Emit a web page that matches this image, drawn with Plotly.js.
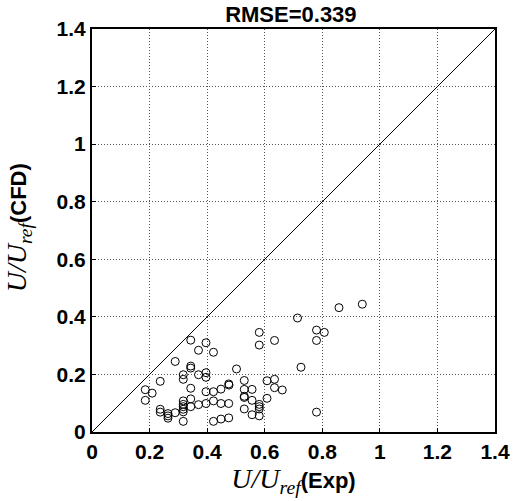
<!DOCTYPE html>
<html><head><meta charset="utf-8">
<script src="https://cdn.plot.ly/plotly-3.0.1.min.js"></script>
<style>body{margin:0;padding:0;background:#fff}#chart{width:513px;height:501px}</style>
</head><body><div id="chart"></div>
<script>
const expVals = [0.343,0.396,0.370,0.422,0.289,0.343,0.343,0.370,0.396,0.396,0.317,0.317,0.237,0.185,0.209,0.185,
  0.343,0.396,0.422,0.448,0.475,0.343,0.317,0.317,0.317,0.317,0.317,0.343,0.370,0.396,0.422,0.448,0.475,
  0.237,0.237,0.264,0.264,0.264,0.289,0.317,0.422,0.448,0.475,
  0.858,0.939,0.714,0.581,0.581,0.634,0.780,0.807,0.780,0.502,0.726,0.476,
  0.529,0.529,0.556,0.608,0.634,0.634,0.661,0.529,0.529,0.556,0.608,0.581,0.581,0.581,0.529,0.556,0.581,0.780];
const cfdVals = [0.319,0.310,0.284,0.277,0.245,0.229,0.222,0.199,0.206,0.190,0.199,0.183,0.176,0.147,0.135,0.110,
  0.152,0.140,0.140,0.149,0.167,0.115,0.108,0.096,0.088,0.079,0.070,0.088,0.095,0.099,0.108,0.099,0.099,
  0.079,0.069,0.064,0.056,0.048,0.067,0.037,0.037,0.045,0.049,
  0.432,0.444,0.396,0.346,0.302,0.318,0.354,0.346,0.318,0.219,0.225,0.163,
  0.179,0.148,0.148,0.178,0.183,0.154,0.146,0.120,0.124,0.110,0.117,0.096,0.088,0.080,0.080,0.060,0.056,0.069];
const refLine = [0, 1.4];
const tickVals = [0,0.2,0.4,0.6,0.8,1,1.2,1.4];
const tickText = ['0','0.2','0.4','0.6','0.8','1','1.2','1.4'];
const titleText = 'RMSE=0.339';
const xTitleTail = '(Exp)';
const yTitleTail = '(CFD)';

const axisBase = {
  range:[0,1.4], tickvals:tickVals, ticktext:tickText, ticks:'inside', ticklen:4, tickcolor:'#000',
  showline:true, linecolor:'#000', linewidth:2, mirror:true,
  showgrid:true, gridcolor:'#555', griddash:'1px,2px', gridwidth:1, zeroline:false,
  tickfont:{family:'Liberation Sans, Arial', size:21, color:'#000', weight:'bold'}, fixedrange:true
};
const uPart = '<span style="font-family:\'Liberation Serif\';font-style:italic;font-weight:normal;font-size:28px">U/U<sub>ref</sub></span>';
const titleFont = {family:'Liberation Sans, Arial', size:22, color:'#000'};
const layout = {
  width:513, height:501, margin:{l:92, r:18, t:29, b:69},
  paper_bgcolor:'#fff', plot_bgcolor:'#fff', showlegend:false,
  title:{text:'<b>'+titleText+'</b>', x:0.567, xanchor:'center', y:0.972, yanchor:'middle',
    font:{family:'Liberation Sans, Arial', size:22, color:'#000'}},
  xaxis:Object.assign({}, axisBase, {automargin:false, title:{text:uPart+'<b>'+xTitleTail+'</b>', standoff:0, font:titleFont}}),
  yaxis:Object.assign({}, axisBase, {automargin:false}),
  annotations:[{text:uPart+'<b>'+yTitleTail+'</b>', textangle:-90, xref:'paper', yref:'paper',
    x:-0.183, y:0.506, xanchor:'center', yanchor:'middle', showarrow:false, font:titleFont}]
};
const data = [
  {x:refLine, y:refLine, mode:'lines', line:{color:'#000', width:1}, hoverinfo:'skip'},
  {x:expVals, y:cfdVals, mode:'markers', marker:{symbol:'circle-open', size:8, color:'#000', line:{width:1, color:'#000'}}}
];
Plotly.newPlot('chart', data, layout, {displayModeBar:false, staticPlot:true});
</script></body></html>
